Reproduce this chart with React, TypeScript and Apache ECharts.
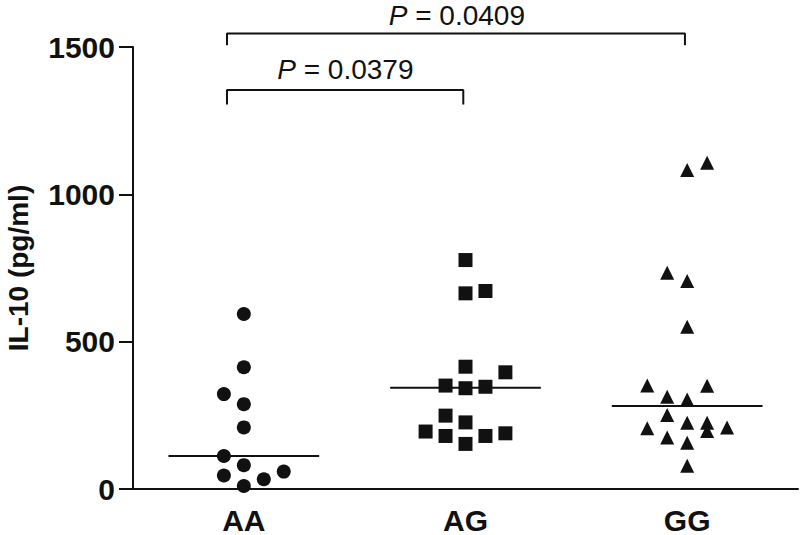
import React, { useEffect, useRef } from "react";
import * as echarts from "echarts";

const categories = ["AA", "AG", "GG"];
const yTicks = { min: 0, max: 1500, interval: 500 };

const aaValues = [594, 413, 322, 288, 209, 112, 81, 46, 33, 59, 10];
const aaColumns = [0, 0, -1, 0, 0, -1, 0, -1, 1, 2, 0];
const agValues = [777, 664, 672, 415, 396, 351, 342, 347, 249, 226, 195, 180, 180, 189, 153];
const agColumns = [0, 0, 1, 0, 2, -1, 0, 1, -1, 0, -2, -1, 1, 2, 0];
const ggValues = [1083, 1107, 734, 706, 551, 351, 350, 313, 304, 251, 206, 225, 225, 197, 209, 175, 157, 79];
const ggColumns = [0, 1, -1, 0, 0, -2, 1, -1, 0, -1, -2, 0, 1, 1, 2, -1, 0, 0];
const medians = [112, 344, 282];

const comparisons = [
  { from: 0, to: 1, p: "0.0379", level: 1354, labelX: 0.958, labelY: 1422 },
  { from: 0, to: 2, p: "0.0409", level: 1546, labelX: 1.461, labelY: 1606 },
];

const JITTER = 0.09;
const MEDIAN_HALF = 0.34;
const FONT = "'Liberation Sans', Arial, Helvetica, sans-serif";
const INK = "#111111";

export default function App() {
  const ref = useRef<HTMLDivElement>(null);
  useEffect(() => {
    if (!ref.current) return;
    const chart = echarts.init(ref.current, null, { renderer: "svg" });
    const groups = [
      { values: aaValues, cols: aaColumns, symbol: "circle", size: 14 },
      { values: agValues, cols: agColumns, symbol: "rect", size: 14 },
      { values: ggValues, cols: ggColumns, symbol: "triangle", size: 14 },
    ];
    const pointSeries = groups.map((g, i) => ({
      type: "scatter",
      xAxisIndex: 1,
      yAxisIndex: 0,
      symbol: g.symbol,
      symbolSize: g.size,
      itemStyle: { color: INK, opacity: 1 },
      clip: false,
      z: 3,
      data: g.values.map((v, k) => [i + 0.5 + g.cols[k] * JITTER, v]),
    }));
    const medianSeries = medians.map((m, i) => ({
      type: "line",
      xAxisIndex: 1,
      yAxisIndex: 0,
      symbol: "none",
      clip: false,
      lineStyle: { color: INK, width: 2 },
      data: [
        [i + 0.5 - MEDIAN_HALF, m],
        [i + 0.5 + MEDIAN_HALF, m],
      ],
      z: 2,
    }));
    const bracketSeries = comparisons.map((c) => {
      const x0 = c.from + 0.424;
      const x1 = c.to + 0.49;
      const drop = c.level > 1400 ? 40 : 49;
      return {
        type: "line",
        xAxisIndex: 1,
        yAxisIndex: 0,
        symbol: "none",
        clip: false,
        lineStyle: { color: INK, width: 2 },
        data: [
          [x0, c.level - drop],
          [x0, c.level],
          [x1, c.level],
          [x1, c.level - drop],
        ],
      };
    });
    const textSeries = {
      type: "scatter",
      xAxisIndex: 1,
      yAxisIndex: 0,
      symbolSize: 0,
      clip: false,
      itemStyle: { opacity: 1 },
      data: comparisons.map((c) => ({ value: [c.labelX, c.labelY], p: c.p })),
      label: {
        show: true,
        position: "inside",
        formatter: (prm: any) => `{i|P} = ${prm.data.p}`,
        color: INK,
        fontFamily: FONT,
        fontSize: 28,
        rich: {
          i: { fontStyle: "italic", fontSize: 28, fontFamily: FONT, color: INK },
        },
      },
    };
    chart.setOption({
      animation: false,
      grid: { left: 133, right: 2, top: 47, bottom: 46, containLabel: false, outerBoundsMode: "none" },
      xAxis: [
        {
          type: "category",
          data: categories,
          axisLine: { lineStyle: { color: INK, width: 2 } },
          axisTick: { alignWithLabel: true, length: 13, lineStyle: { color: INK, width: 2 } },
          axisLabel: { color: INK, fontFamily: FONT, fontWeight: "bold", fontSize: 30, margin: 16 },
        },
        { type: "value", min: 0, max: 3, show: false },
      ],
      yAxis: {
        type: "value",
        min: yTicks.min,
        max: yTicks.max,
        interval: yTicks.interval,
        name: "IL-10 (pg/ml)",
        nameLocation: "middle",
        nameGap: 101,
        nameRotate: 90,
        nameTextStyle: { color: INK, fontFamily: FONT, fontWeight: "bold", fontSize: 28 },
        axisLine: { show: true, lineStyle: { color: INK, width: 2 } },
        axisTick: { show: true, length: 14, lineStyle: { color: INK, width: 2 } },
        axisLabel: {
          color: INK,
          fontFamily: FONT,
          fontWeight: "bold",
          fontSize: 30,
          margin: 18,
          formatter: (v: number) => String(v),
        },
        splitLine: { show: false },
      },
      series: [...medianSeries, ...bracketSeries, ...pointSeries, textSeries],
    });
    return () => chart.dispose();
  }, []);
  return (
    <div
      ref={ref}
      style={{ position: "fixed", left: 0, top: 0, width: 800, height: 535, background: "#fff" }}
    />
  );
}
